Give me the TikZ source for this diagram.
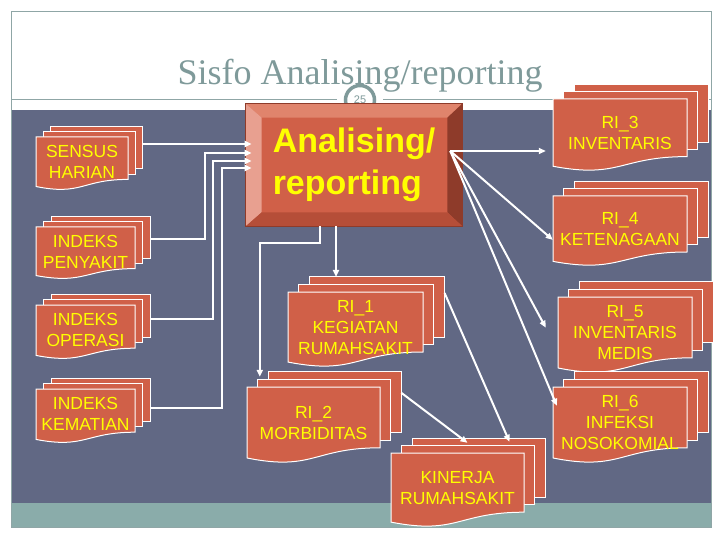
\documentclass[tikz,border=0pt]{standalone}
\usepackage{fontspec}
\setmainfont{Liberation Serif}
\newfontfamily\arialf{Liberation Sans}
\usetikzlibrary{arrows.meta}
\definecolor{docred}{HTML}{D06048}
\definecolor{docyellow}{HTML}{FFFF00}
\definecolor{bandblue}{HTML}{616884}
\definecolor{bandteal}{HTML}{8AACAA}
\definecolor{titlegray}{HTML}{7F9A9A}
\definecolor{framegray}{HTML}{8FA6A6}
\definecolor{bevtop}{HTML}{E0846C}
\definecolor{bevleft}{HTML}{E8A090}
\definecolor{bevright}{HTML}{8E3B2A}
\definecolor{bevbot}{HTML}{B54E38}
\tikzset{>={Triangle[length=7pt,width=6pt]}}
\tikzset{
  docfill/.style={fill=docred,draw=white,line width=1pt},
  doctext/.style={text=docyellow,font=\arialf\fontsize{17.5}{21}\selectfont,
    align=center,inner sep=0pt},
  link/.style={draw=white,line width=2pt,->},
  titletext/.style={text=titlegray,font=\fontsize{36}{40}\selectfont},
  pgnum/.style={circle,draw=titlegray,line width=3.5pt,fill=white,minimum size=29pt,
    inner sep=0pt,text=titlegray,font=\arialf\fontsize{11}{11}\selectfont},
  anabox/.style={fill=docred,draw=bevright,line width=.6pt,minimum width=216,
    minimum height=122,inner sep=0pt,align=left,text=docyellow,
    font=\arialf\bfseries\fontsize{34}{42}\selectfont}
}
% stacked document: name, left x, top y, width, height, text
\newcommand{\mdoc}[6]{%
  \pgfmathsetmacro\mdx{0.08*#4}%
  \pgfmathsetmacro\mdy{0.1*#5}%
  \foreach \k in {2,1}{
    \path[docfill] (#2+\k*\mdx,#3-\k*\mdy) rectangle (#2+#4+\k*\mdx,#3+0.8*#5-\k*\mdy);
  }
  \path[docfill] (#2,#3) -- (#2+#4,#3) -- (#2+#4,#3+0.8*#5)
    .. controls (#2+0.5*#4,#3+0.8*#5) and (#2+0.5*#4,#3+1.11*#5) .. (#2,#3+0.934*#5) -- cycle;
  \node[doctext,minimum width=#4,minimum height=0.94*#5] (#1) at (#2+0.5*#4,#3+0.47*#5) {#6};
  \coordinate (#1-ne) at (#2+#4+2*\mdx,#3-2*\mdy);
}

\begin{document}
\begin{tikzpicture}[x=1pt,y=-1pt]
    \useasboundingbox (0,0) rectangle (720,540);
    \fill[white] (0,0) rectangle (720,540);
    % slide
    \fill[bandblue] (12,110) rectangle (711,503);
    \fill[bandteal] (12,503) rectangle (711,527);
    \draw[framegray,line width=1pt] (11.5,12) rectangle (711,527);
    \node[titletext,anchor=base] (title) at (360,85) {Sisfo Analising/reporting};
    \draw[framegray,line width=1pt] (12,100) -- (337,100) (383,100) -- (711,100);
    \node[pgnum] (pg) at (360,100) {25};

    % documents
    \mdoc{sensus}{36}{137}{92}{53}{SENSUS\\HARIAN}
    \mdoc{penyakit}{36}{227}{99}{52}{INDEKS\\PENYAKIT}
    \mdoc{operasi}{36}{305}{99}{54}{INDEKS\\OPERASI}
    \mdoc{kematian}{36}{389}{99}{54}{INDEKS\\KEMATIAN}
    \mdoc{ri3}{553}{99}{134}{72}{RI\_3\\INVENTARIS}
    \mdoc{ri4}{553}{196}{134}{70}{RI\_4\\KETENAGAAN}
    \mdoc{ri5}{558}{297}{134}{76}{RI\_5\\INVENTARIS\\MEDIS}
    \mdoc{ri6}{553}{387}{134}{76}{RI\_6\\INFEKSI\\NOSOKOMIAL}
    \mdoc{ri1}{288}{292}{135}{75}{RI\_1\\KEGIATAN\\RUMAHSAKIT}
    \mdoc{ri2}{247}{387}{133}{76}{RI\_2\\MORBIDITAS}
    \mdoc{kinerja}{391}{453}{133}{74}{KINERJA\\RUMAHSAKIT}

    % bevelled box
    \node[anabox] (ana) at (354,165) {Analising/\\reporting};
    \fill[bevtop] (ana.north west) -- (ana.north east) -- ([xshift=-15pt,yshift=-14pt]ana.north east)
      -- ([xshift=16pt,yshift=-14pt]ana.north west) -- cycle;
    \fill[bevleft] (ana.north west) -- ([xshift=16pt,yshift=-14pt]ana.north west)
      -- ([xshift=16pt,yshift=14pt]ana.south west) -- (ana.south west) -- cycle;
    \fill[bevright] (ana.north east) -- (ana.south east) -- ([xshift=-15pt,yshift=14pt]ana.south east)
      -- ([xshift=-15pt,yshift=-14pt]ana.north east) -- cycle;
    \fill[bevbot] (ana.south west) -- ([xshift=16pt,yshift=14pt]ana.south west)
      -- ([xshift=-15pt,yshift=14pt]ana.south east) -- (ana.south east) -- cycle;
    \draw[bevright,line width=.6pt] (ana.north west) rectangle (ana.south east);

    \coordinate (in1) at ([xshift=6pt,yshift=21pt]ana.west);
    \coordinate (in2) at ([xshift=6pt,yshift=12pt]ana.west);
    \coordinate (in3) at ([xshift=6pt,yshift=4pt]ana.west);
    \coordinate (in4) at ([xshift=6pt,yshift=-3pt]ana.west);
    \coordinate (out1) at ([xshift=-34pt]ana.south);
    \coordinate (out2) at ([xshift=-18pt]ana.south);
    \coordinate (hub) at ([xshift=-12pt,yshift=14pt]ana.east);

    % inputs
    \draw[link] (in1 -| sensus-ne) -- (in1);
    \draw[link] ([yshift=-22pt]penyakit-ne) -| ([xshift=-47pt]in2) -- (in2);
    \draw[link] ([yshift=-25pt]operasi-ne) -| ([xshift=-39pt]in3) -- (in3);
    \draw[link] ([yshift=-30pt]kematian-ne) -| ([xshift=-30pt]in4) -- (in4);

    % outputs
    \draw[link] (out1) -- ++(0,17) -| ([xshift=13pt,yshift=10pt]ri2.north west);
    \draw[link] (out2) -- (out2 |- ri1-ne);
    \draw[link,shorten >=7pt] (hub) -- (hub -| ri3.west);
    \draw[link] (hub) -- ([yshift=-11pt]ri4.west);
    \draw[link] (hub) -- ([xshift=-12pt,yshift=5pt]ri5.west);
    \draw[link] (hub) -- ([xshift=4pt,yshift=17pt]ri6.west);
    \draw[link] ([yshift=-16pt]ri1-ne) -- ([xshift=52pt,yshift=11pt]kinerja.north);
    \draw[link] ([yshift=-21pt]ri2-ne) -- ([xshift=10pt,yshift=10pt]kinerja.north);
\end{tikzpicture}
\end{document}
